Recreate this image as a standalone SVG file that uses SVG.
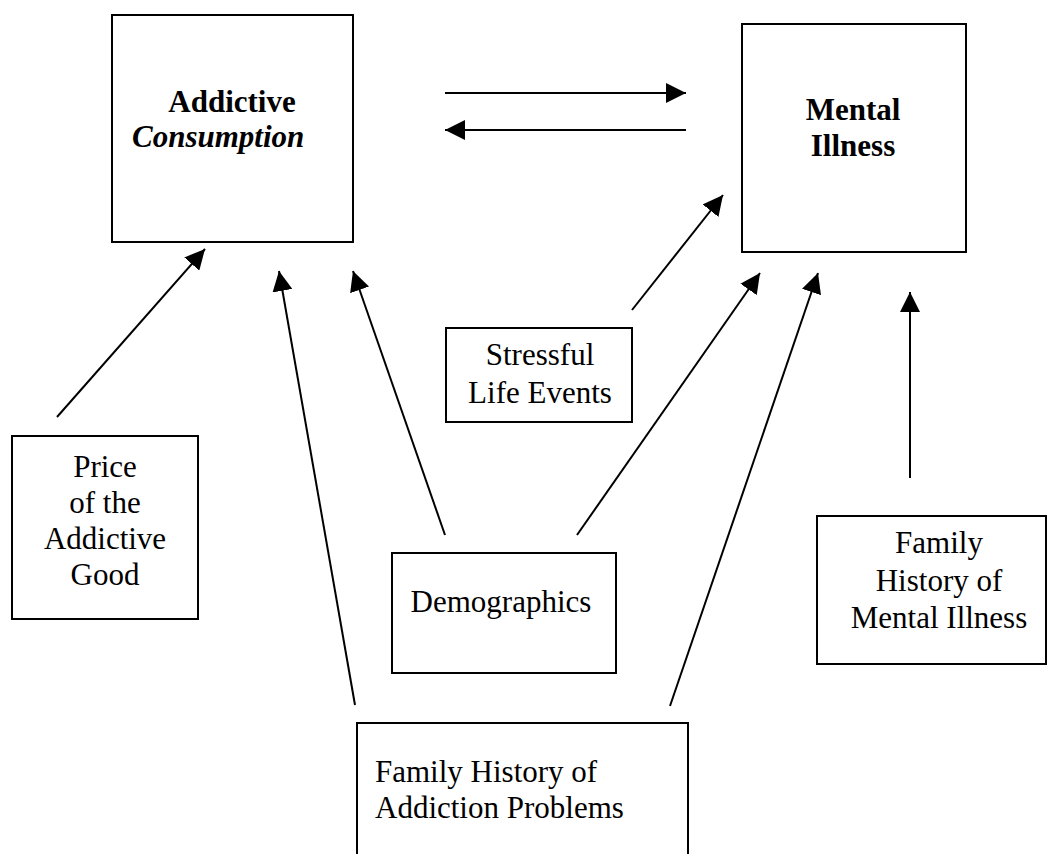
<svg xmlns="http://www.w3.org/2000/svg" width="1051" height="854" viewBox="0 0 1051 854">
<style>
.box{fill:#fff;stroke:#000;stroke-width:2}
.t{font-family:"Liberation Serif","Times New Roman",serif;font-size:31px;fill:#000}
.c{text-anchor:middle}
.b{font-weight:bold}
.bi{font-weight:bold;font-style:italic}
.arr{stroke:#000;stroke-width:2;fill:none;marker-end:url(#ah)}
</style>
<defs>
<marker id="ah" viewBox="0 0 20 20" refX="20" refY="10" markerWidth="20" markerHeight="20" orient="auto" markerUnits="userSpaceOnUse">
<path d="M0,0 L20,10 L0,20 z" fill="#000"/>
</marker>
</defs>
<rect width="1051" height="854" fill="#fff"/>
<g id="addictive-consumption">
<rect class="box" x="112" y="15" width="241" height="227"/>
<text class="t b c" x="232" y="112">Addictive</text>
<text class="t bi" x="132" y="147">Consumption</text>
</g>
<g id="mental-illness">
<rect class="box" x="742" y="24" width="224" height="228"/>
<text class="t b c" x="853" y="120">Mental</text>
<text class="t b c" x="853" y="156">Illness</text>
</g>
<g id="price">
<rect class="box" x="12" y="436" width="186" height="183"/>
<text class="t c" x="105" y="477">Price</text>
<text class="t c" x="105" y="513">of the</text>
<text class="t c" x="105" y="549">Addictive</text>
<text class="t c" x="105" y="585">Good</text>
</g>
<g id="stressful">
<rect class="box" x="446" y="328" width="186" height="94"/>
<text class="t c" x="540" y="365">Stressful</text>
<text class="t c" x="540" y="403">Life Events</text>
</g>
<g id="demographics">
<rect class="box" x="392" y="553" width="224" height="120"/>
<text class="t c" x="501" y="612">Demographics</text>
</g>
<g id="family-mental">
<rect class="box" x="817" y="516" width="229" height="148"/>
<text class="t c" x="939" y="553">Family</text>
<text class="t c" x="939" y="591">History of</text>
<text class="t c" x="939" y="628">Mental Illness</text>
</g>
<g id="family-addiction">
<rect class="box" x="357" y="723" width="331" height="150"/>
<text class="t" x="375" y="782">Family History of</text>
<text class="t" x="375" y="818">Addiction Problems</text>
</g>
<g id="connectors">
<line class="arr" x1="445" y1="93" x2="686" y2="93"/>
<line class="arr" x1="686" y1="130" x2="445" y2="130"/>
<line class="arr" x1="57" y1="417" x2="205" y2="249"/>
<line class="arr" x1="355" y1="705" x2="279" y2="271"/>
<line class="arr" x1="445" y1="535" x2="353" y2="271"/>
<line class="arr" x1="632" y1="310" x2="723" y2="195"/>
<line class="arr" x1="577" y1="535" x2="760" y2="273"/>
<line class="arr" x1="670" y1="706" x2="818" y2="273"/>
<line class="arr" x1="910" y1="478" x2="910" y2="292"/>
</g>
</svg>
